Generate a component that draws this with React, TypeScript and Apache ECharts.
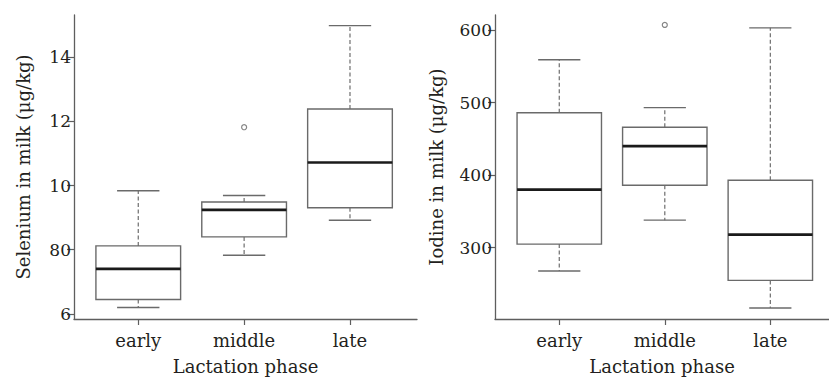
import React, { useEffect, useRef } from "react";
import * as echarts from "echarts";

const categories = ["early", "middle", "late"];
// [lower whisker, Q1, median, Q3, upper whisker]
const seleniumBoxes = [
  [6.2, 6.45, 7.4, 8.12, 9.84],
  [7.83, 8.4, 9.24, 9.49, 9.69],
  [8.92, 9.31, 10.72, 12.39, 14.99],
];
const seleniumOutliers: [string, number][] = [["middle", 11.82]];
const seleniumTicks = [6, 8, 10, 12, 14];
const seleniumTickLabels = ["6", "80", "10", "12", "14"];

const iodineBoxes = [
  [268, 305, 380, 486, 559],
  [338, 386, 440, 466, 493],
  [217, 255, 318, 393, 603],
];
const iodineOutliers: [string, number][] = [["middle", 607]];
const iodineTicks = [300, 400, 500, 600];
const iodineTickLabels = ["300", "400", "500", "600"];

const FONT = "DejaVu Serif";
const TEXT = "#231f20";
const AXIS = "#5e5e5e";

function boxRender(params: any, api: any) {
  const x = api.value(0);
  const lo = api.value(1);
  const q1 = api.value(2);
  const med = api.value(3);
  const q3 = api.value(4);
  const hi = api.value(5);
  const c = api.coord([x, med]);
  const cx = c[0];
  const yLo = api.coord([x, lo])[1];
  const yQ1 = api.coord([x, q1])[1];
  const yMed = c[1];
  const yQ3 = api.coord([x, q3])[1];
  const yHi = api.coord([x, hi])[1];
  const bl = api.coord([x - 0.4, med])[0];
  const br = api.coord([x + 0.4, med])[0];
  const cl = api.coord([x - 0.2, med])[0];
  const cr = api.coord([x + 0.2, med])[0];
  const whisk = { stroke: "#6e6e6e", lineWidth: 1.2, lineDash: [4, 2.5] };
  const cap = { stroke: "#6a6a6a", lineWidth: 1.4 };
  return {
    type: "group",
    children: [
      { type: "line", shape: { x1: cx, y1: yQ3, x2: cx, y2: yHi }, style: whisk },
      { type: "line", shape: { x1: cx, y1: yQ1, x2: cx, y2: yLo }, style: whisk },
      { type: "line", shape: { x1: cl, y1: yHi, x2: cr, y2: yHi }, style: cap },
      { type: "line", shape: { x1: cl, y1: yLo, x2: cr, y2: yLo }, style: cap },
      {
        type: "rect",
        shape: { x: bl, y: yQ3, width: br - bl, height: yQ1 - yQ3 },
        style: { fill: "#fff", stroke: "#6a6a6a", lineWidth: 1.4 },
      },
      { type: "line", shape: { x1: bl, y1: yMed, x2: br, y2: yMed }, style: { stroke: "#1a1a1a", lineWidth: 2.7 } },
    ],
  };
}

function xAxisCfg(gridIndex: number, min: number, max: number) {
  return {
    type: "value",
    gridIndex,
    min,
    max,
    name: "Lactation phase",
    nameLocation: "middle",
    nameGap: 38,
    nameTextStyle: { fontFamily: FONT, fontSize: 18, color: TEXT },
    axisLine: { show: true, lineStyle: { color: AXIS, width: 1.3 } },
    axisTick: { show: true, length: 6, customValues: [1, 2, 3], lineStyle: { color: AXIS, width: 1.2 } },
    axisLabel: {
      customValues: [1, 2, 3],
      formatter: (v: number) => categories[Math.round(v) - 1] ?? "",
      fontFamily: FONT,
      fontSize: 18,
      color: TEXT,
      margin: 12,
    },
    splitLine: { show: false },
  };
}

function yAxisCfg(gridIndex: number, name: string, min: number, max: number, ticks: number[], labels: string[], gap: number) {
  return {
    type: "value",
    gridIndex,
    min,
    max,
    name,
    nameLocation: "middle",
    nameGap: gap,
    nameTextStyle: { fontFamily: FONT, fontSize: 18, color: TEXT },
    axisLine: { show: true, lineStyle: { color: AXIS, width: 1.3 } },
    axisTick: { show: true, length: 7, customValues: ticks, lineStyle: { color: AXIS, width: 1.2 } },
    axisLabel: {
      customValues: ticks,
      formatter: (v: number) => {
        const i = ticks.indexOf(v);
        return i >= 0 ? labels[i] : "";
      },
      fontFamily: FONT,
      fontSize: 17,
      color: TEXT,
      margin: 3,
    },
    splitLine: { show: false },
  };
}

export default function App() {
  const ref = useRef<HTMLDivElement>(null);
  useEffect(() => {
    if (!ref.current) return;
    const chart = echarts.init(ref.current, undefined, { renderer: "svg" });
    const selData = seleniumBoxes.map((b, i) => [i + 1, ...b]);
    const iodData = iodineBoxes.map((b, i) => [i + 1, ...b]);
    const selOut = seleniumOutliers.map(([c, v]) => [categories.indexOf(c) + 1, v]);
    const iodOut = iodineOutliers.map(([c, v]) => [categories.indexOf(c) + 1, v]);
    chart.setOption({
      animation: false,
      backgroundColor: "#fff",
      grid: [
        { left: 74, top: 15, width: 343, height: 304, containLabel: false, outerBoundsMode: "none" },
        { left: 495, top: 15, width: 334, height: 304, containLabel: false, outerBoundsMode: "none" },
      ],
      xAxis: [xAxisCfg(0, 0.393, 3.633), xAxisCfg(1, 0.391, 3.556)],
      yAxis: [
        yAxisCfg(0, "Selenium in milk (μg/kg)", 5.84, 15.32, seleniumTicks, seleniumTickLabels, 42),
        yAxisCfg(1, "Iodine in milk (μg/kg)", 201.8, 620.7, iodineTicks, iodineTickLabels, 50),
      ],
      series: [
        {
          type: "custom",
          xAxisIndex: 0,
          yAxisIndex: 0,
          renderItem: boxRender,
          encode: { x: 0, y: [1, 2, 3, 4, 5] },
          data: selData,
          silent: true,
        },
        {
          type: "custom",
          xAxisIndex: 1,
          yAxisIndex: 1,
          renderItem: boxRender,
          encode: { x: 0, y: [1, 2, 3, 4, 5] },
          data: iodData,
          silent: true,
        },
        {
          type: "scatter",
          xAxisIndex: 0,
          yAxisIndex: 0,
          symbol: "circle",
          symbolSize: 5,
          itemStyle: { color: "#fff", borderColor: "#666", borderWidth: 1.2 },
          data: selOut,
        },
        {
          type: "scatter",
          xAxisIndex: 1,
          yAxisIndex: 1,
          symbol: "circle",
          symbolSize: 5,
          itemStyle: { color: "#fff", borderColor: "#666", borderWidth: 1.2 },
          data: iodOut,
        },
      ],
    });
    return () => chart.dispose();
  }, []);
  return <div ref={ref} style={{ position: "fixed", left: 0, top: 0, width: 829, height: 379 }} />;
}
